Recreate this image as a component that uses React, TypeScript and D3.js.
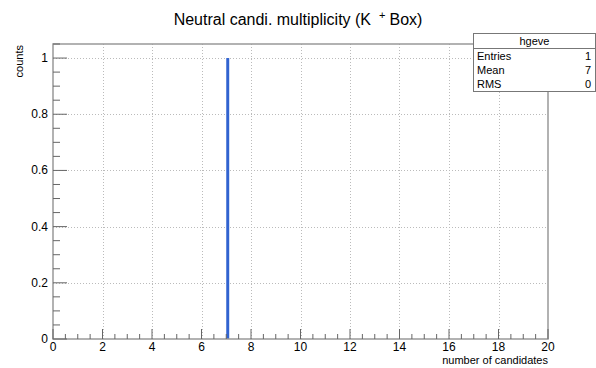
import React, { useEffect, useRef } from 'react';
import * as d3 from 'd3';

// histogram content: bin low edges and counts
const binEdges = [7];
const binCounts = [1];
const binWidth = 0.12;

const xTicks = [0, 2, 4, 6, 8, 10, 12, 14, 16, 18, 20];
const yTicks = [0, 0.2, 0.4, 0.6, 0.8, 1];

const statLabels = ['Entries', 'Mean', 'RMS'];
const statValues = ['1', '7', '0'];

const App = () => {
  const ref = useRef<SVGSVGElement>(null);

  useEffect(() => {
    const width = 596;
    const height = 368;
    const margin = { top: 44, right: 48, bottom: 29, left: 53 };
    const font = 'Liberation Sans, Arial, sans-serif';

    const svg = d3.select(ref.current);
    svg.selectAll('*').remove();

    const x = d3.scaleLinear().domain([0, 20]).range([margin.left, width - margin.right]);
    const y = d3.scaleLinear().domain([0, 1.05]).range([height - margin.bottom, margin.top]);

    svg.append('rect').attr('width', width).attr('height', height).attr('fill', '#fff');

    // grid
    const grid = svg.append('g').attr('stroke', '#bbb').attr('stroke-width', 1).attr('stroke-dasharray', '1,2');
    xTicks.slice(1, -1).forEach(t => {
      grid.append('line')
        .attr('x1', Math.round(x(t)) + 0.5).attr('x2', Math.round(x(t)) + 0.5)
        .attr('y1', y(1.05)).attr('y2', y(0));
    });
    yTicks.slice(1).forEach(t => {
      grid.append('line')
        .attr('x1', x(0)).attr('x2', x(20))
        .attr('y1', Math.round(y(t)) + 0.5).attr('y2', Math.round(y(t)) + 0.5);
    });

    // histogram bars
    svg.append('g').selectAll('rect')
      .data(binEdges)
      .enter()
      .append('rect')
      .attr('x', d => x(d))
      .attr('width', x(binWidth) - x(0))
      .attr('y', (d, i) => y(binCounts[i]))
      .attr('height', (d, i) => y(0) - y(binCounts[i]))
      .attr('fill', '#3163d0');

    // frame
    svg.append('rect')
      .attr('x', x(0)).attr('y', y(1.05))
      .attr('width', x(20) - x(0)).attr('height', y(0) - y(1.05))
      .attr('fill', 'none').attr('stroke', '#999').attr('stroke-width', 1.5);

    // ticks (inward)
    const ticks = svg.append('g').attr('stroke', '#666').attr('stroke-width', 1);
    d3.range(0, 20.01, 0.5).forEach(t => {
      const major = Math.abs(t % 2) < 1e-6;
      const len = major ? 10 : 5;
      ticks.append('line')
        .attr('x1', x(t)).attr('x2', x(t))
        .attr('y1', y(0)).attr('y2', y(0) - len);
    });
    d3.range(0, 1.051, 0.05).forEach(t => {
      const major = Math.abs((t / 0.2) - Math.round(t / 0.2)) < 1e-6;
      const len = major ? 14 : 7;
      ticks.append('line')
        .attr('x1', x(0)).attr('x2', x(0) + len)
        .attr('y1', y(t)).attr('y2', y(t));
    });

    // tick labels
    svg.append('g').selectAll('text')
      .data(xTicks)
      .enter()
      .append('text')
      .attr('x', d => x(d))
      .attr('y', y(0) + 12)
      .attr('text-anchor', 'middle')
      .attr('font-family', font)
      .attr('font-size', 12)
      .text(d => d);

    svg.append('g').selectAll('text')
      .data(yTicks)
      .enter()
      .append('text')
      .attr('x', x(0) - 5)
      .attr('y', d => y(d) + 4)
      .attr('text-anchor', 'end')
      .attr('font-family', font)
      .attr('font-size', 12)
      .text(d => d);

    // axis titles
    svg.append('text')
      .attr('x', x(20)).attr('y', 364)
      .attr('text-anchor', 'end')
      .attr('font-family', font).attr('font-size', 11)
      .text('number of candidates');

    svg.append('text')
      .attr('transform', `translate(23,${margin.top + 1}) rotate(-90)`)
      .attr('text-anchor', 'end')
      .attr('font-family', font).attr('font-size', 11)
      .text('counts');

    // title
    const title = svg.append('text')
      .attr('x', 298).attr('y', 25)
      .attr('text-anchor', 'middle')
      .attr('font-family', font).attr('font-size', 16);
    title.append('tspan').text('Neutral candi. multiplicity (K');
    title.append('tspan').attr('font-size', 11).attr('dx', 8).attr('dy', -6).text('+');
    title.append('tspan').attr('dx', 4).attr('dy', 6).text('Box)');

    // stats box
    const bx = 473, by = 33, bw = 123, bh = 58, hh = 15;
    const box = svg.append('g');
    box.append('rect')
      .attr('x', bx + 0.5).attr('y', by + 0.5).attr('width', bw - 1).attr('height', bh)
      .attr('fill', '#fff').attr('stroke', '#777').attr('stroke-width', 1);
    box.append('line')
      .attr('x1', bx).attr('x2', bx + bw)
      .attr('y1', by + hh + 0.5).attr('y2', by + hh + 0.5)
      .attr('stroke', '#777');
    box.append('text')
      .attr('x', bx + bw / 2).attr('y', by + 12)
      .attr('text-anchor', 'middle')
      .attr('font-family', font).attr('font-size', 11)
      .text('hgeve');
    statLabels.forEach((s, i) => {
      box.append('text')
        .attr('x', bx + 4).attr('y', by + hh + 12 + i * 14)
        .attr('font-family', font).attr('font-size', 11)
        .text(s);
      box.append('text')
        .attr('x', bx + bw - 5).attr('y', by + hh + 12 + i * 14)
        .attr('text-anchor', 'end')
        .attr('font-family', font).attr('font-size', 11)
        .text(statValues[i]);
    });
  }, []);

  return (
    <div style={{ position: 'absolute', left: 0, top: 0 }}>
      <svg ref={ref} width={596} height={368} style={{ display: 'block' }}></svg>
    </div>
  );
};

export default App;
